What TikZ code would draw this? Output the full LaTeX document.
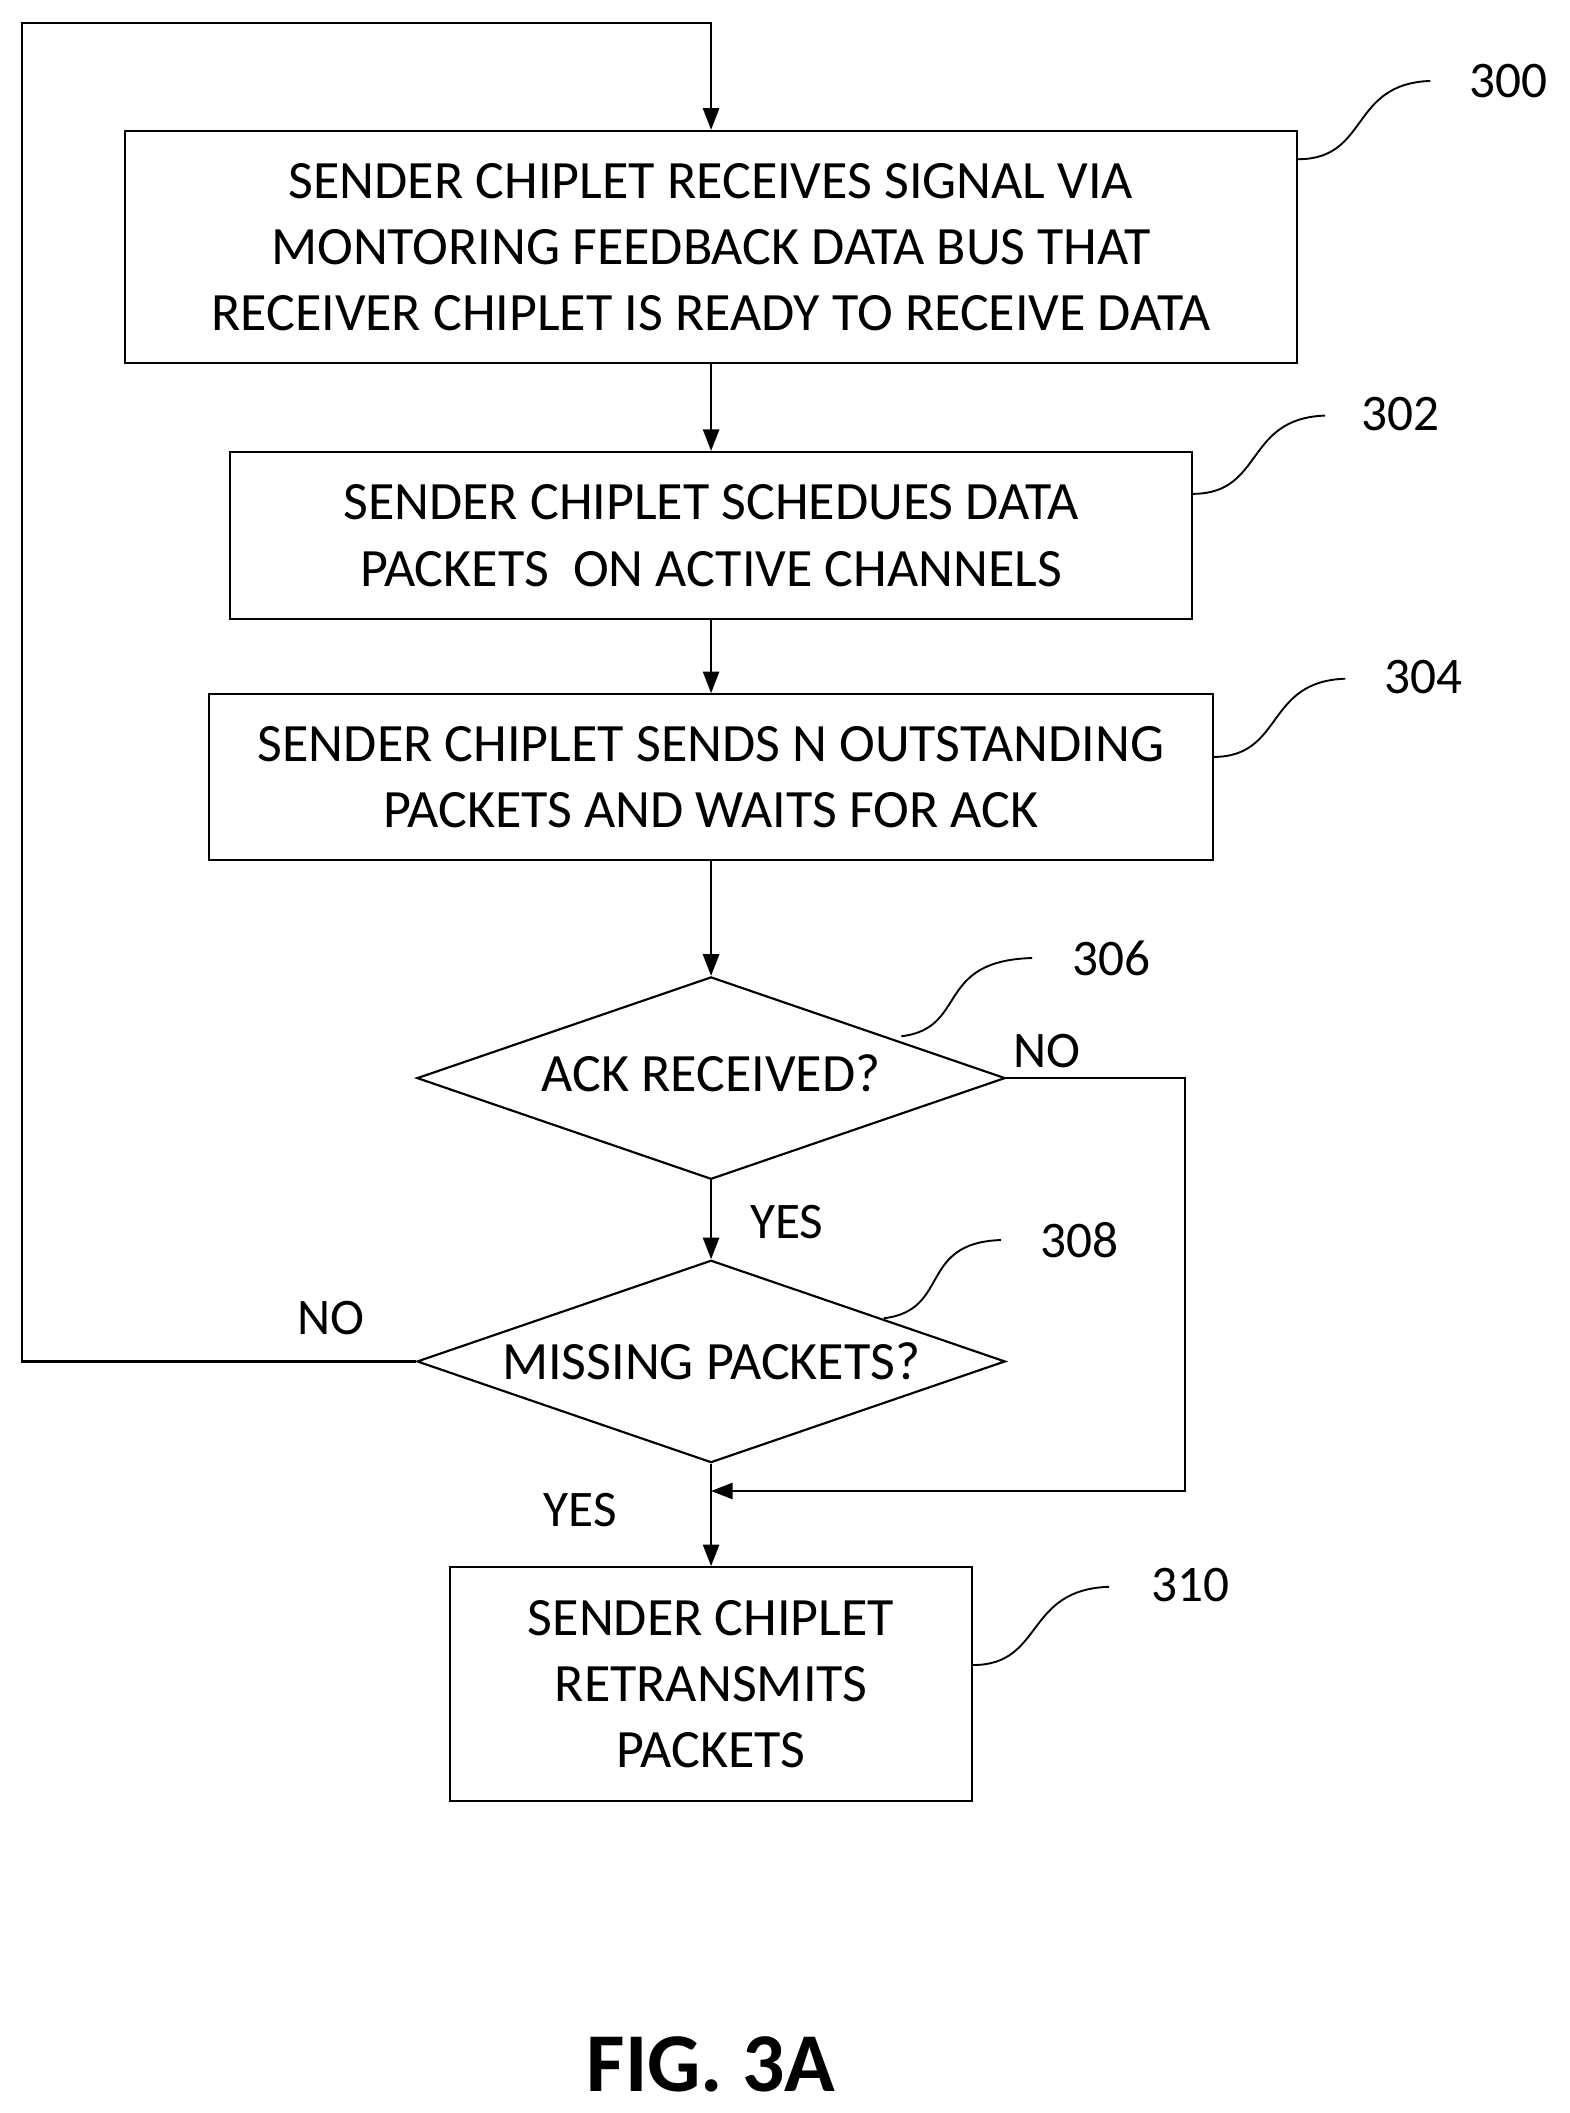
\documentclass[tikz,border=0pt]{standalone}
\usepackage{fontspec}
\setmainfont{Carlito}
\usetikzlibrary{positioning, arrows.meta, shapes.geometric}

\tikzset{
    stage/.style={draw, line width=1.6pt, rectangle, align=center, inner sep=0pt, font=\fontsize{40}{49}\selectfont},
    test/.style={draw, line width=1.6pt, diamond, aspect=2.9, inner sep=0pt, minimum width=436pt, minimum height=150pt, font=\fontsize{40}{49}\selectfont},
    lbl/.style={font=\fontsize{38}{40}\selectfont},
    leader/.style={line width=1.4pt},
    flow/.style={line width=1.6pt, -{Triangle[length=16pt, width=12pt]}}
}

\begin{document}
\begin{tikzpicture}[x=1pt, y=-1pt]
    \useasboundingbox (0,0) rectangle (1163,1566);

    \node (rx) [stage, minimum width=869pt, minimum height=172pt] at (527,183) {SENDER CHIPLET RECEIVES SIGNAL VIA\\MONTORING FEEDBACK DATA BUS THAT\\RECEIVER CHIPLET IS READY TO RECEIVE DATA};
    \node (sched) [stage, minimum width=713pt, minimum height=124pt] at (527,397) {SENDER CHIPLET SCHEDUES DATA\\PACKETS\ \ ON ACTIVE CHANNELS};
    \node (send) [stage, minimum width=744pt, minimum height=123pt] at (527,576) {SENDER CHIPLET SENDS N OUTSTANDING\\PACKETS AND WAITS FOR ACK};
    \node (ack) [test] at (527,799) {\raisebox{8pt}{ACK RECEIVED?}};
    \node (miss) [test] at (527,1009) {MISSING PACKETS?};
    \node (retx) [stage, minimum width=387pt, minimum height=173pt] at (527,1248) {SENDER CHIPLET\\RETRANSMITS\\PACKETS};

    \coordinate (topleft) at (16,17);
    \coordinate (topmid) at (527,17);
    \coordinate (noright) at (878,799);
    \coordinate (joinpt) at (527,1105);

    \draw [flow] (rx) -- (sched);
    \draw [flow] (sched) -- (send);
    \draw [flow] (send) -- (ack);
    \draw [flow] (ack) -- (miss);
    \draw [flow] (miss) -- (retx);
    \draw [flow] (miss.west) -| (topleft) -- (topmid) -- (rx.north);
    \draw [flow] (ack.east) -- (noright) |- (joinpt);

    \node (nA) [lbl] at (776,779) {NO};
    \node (yA) [lbl] at (583,906) {YES};
    \node (nB) [lbl] at (245,977) {NO};
    \node (yB) [lbl] at (430,1119) {YES};

    % reference numerals
    \node (n300) [lbl] at (1118,60) {300};
    \node (n302) [lbl] at (1038,307) {302};
    \node (n304) [lbl] at (1055,502) {304};
    \node (n306) [lbl] at (824,710) {306};
    \node (n308) [lbl] at (800,919) {308};
    \node (n310) [lbl] at (882,1175) {310};

    \draw [leader] (962,118) .. controls (1015,118) and (1000,62) .. (1060,60);
    \draw [leader] (884,366) .. controls (937,366) and (922,310) .. (982,308);
    \draw [leader] (899,561) .. controls (952,561) and (937,505) .. (997,503);
    \draw [leader] (668,768) .. controls (718,762) and (692,712) .. (765,710);
    \draw [leader] (655,977) .. controls (705,971) and (680,921) .. (742,919);
    \draw [leader] (721,1234) .. controls (774,1234) and (759,1178) .. (822,1176);

    \node (fig) [font=\bfseries\fontsize{62}{66}\selectfont] at (527,1530) {FIG. 3A};
\end{tikzpicture}
\end{document}
